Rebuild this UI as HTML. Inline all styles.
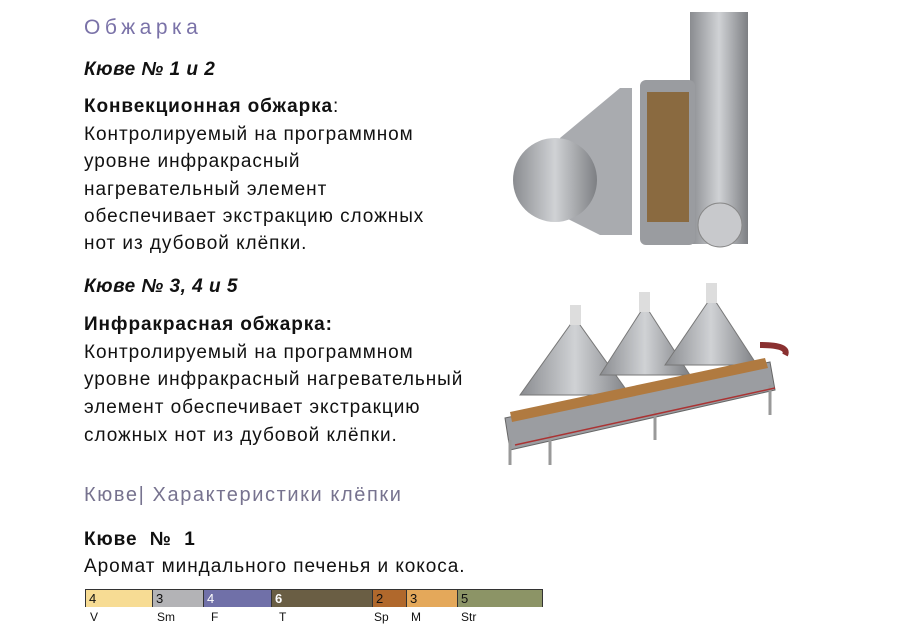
<!DOCTYPE html>
<html><head><meta charset="utf-8"><style>
body{margin:0;width:909px;height:633px;background:#fff;position:relative;overflow:hidden;font-family:"Liberation Sans",sans-serif;color:#111}
.t{position:absolute;left:84px;font-size:19px;letter-spacing:0.95px;white-space:nowrap;line-height:1}
.b{font-weight:bold;letter-spacing:0.9px}.i{font-style:italic;font-weight:bold;letter-spacing:0.5px}
.seg{position:absolute;top:590px;height:17px;border-right:1px solid #333;font-size:13px;padding-left:3px;box-sizing:border-box;line-height:17px}
.lab{position:absolute;top:610px;font-size:12px}
</style></head><body>
<div class="t" style="top:17px;font-size:21px;color:#7a72a8;letter-spacing:4.5px">Обжарка</div>
<div class="t i" style="top:60px">Кюве № 1 и 2</div>
<div class="t b" style="top:97px">Конвекционная обжарка<span style="font-weight:normal">:</span></div>
<div class="t" style="top:125px">Контролируемый на программном</div>
<div class="t" style="top:152px">уровне инфракрасный</div>
<div class="t" style="top:180px">нагревательный элемент</div>
<div class="t" style="top:207px">обеспечивает экстракцию сложных</div>
<div class="t" style="top:234px">нот из дубовой клёпки.</div>
<div class="t i" style="top:277px">Кюве № 3, 4 и 5</div>
<div class="t b" style="top:315px">Инфракрасная обжарка:</div>
<div class="t" style="top:343px">Контролируемый на программном</div>
<div class="t" style="top:370px">уровне инфракрасный нагревательный</div>
<div class="t" style="top:398px">элемент обеспечивает экстракцию</div>
<div class="t" style="top:426px">сложных нот из дубовой клёпки.</div>
<div class="t" style="top:485px;font-size:20px;color:#77738f;letter-spacing:1.6px">Кюве| Характеристики клёпки</div>
<div class="t b" style="top:530px">Кюве &nbsp;№ &nbsp;1</div>
<div class="t" style="top:557px">Аромат миндального печенья и кокоса.</div>
<div style="position:absolute;left:85px;top:589px;width:458px;height:18px;border:1px solid #333;box-sizing:border-box"></div>
<div class="seg" style="left:86px;width:67px;background:#f7dc94">4</div>
<div class="seg" style="left:153px;width:51px;background:#b3b3b6">3</div>
<div class="seg" style="left:204px;width:68px;background:#7070a8;color:#fff">4</div>
<div class="seg" style="left:272px;width:101px;background:#6a5e44;color:#fff;font-weight:bold">6</div>
<div class="seg" style="left:373px;width:34px;background:#b0682c">2</div>
<div class="seg" style="left:407px;width:51px;background:#e4a85a">3</div>
<div class="seg" style="left:458px;width:84px;background:#8c9466;border-right:none">5</div>
<div class="lab" style="left:90px">V</div><div class="lab" style="left:157px">Sm</div>
<div class="lab" style="left:211px">F</div><div class="lab" style="left:279px">T</div>
<div class="lab" style="left:374px">Sp</div><div class="lab" style="left:411px">M</div>
<div class="lab" style="left:461px">Str</div>
<svg style="position:absolute;left:0;top:0" width="909" height="633">
<defs><linearGradient id="g" x1="0" x2="1"><stop offset="0" stop-color="#8a8c90"/><stop offset=".5" stop-color="#d0d2d5"/><stop offset="1" stop-color="#7d7f83"/></linearGradient></defs>
<rect x="690" y="12" width="58" height="232" fill="url(#g)"/>
<path d="M560 138 L620 88 L632 88 L632 235 L600 235 L560 215 Z" fill="#a9abaf"/>
<ellipse cx="555" cy="180" rx="42" ry="42" fill="url(#g)"/>
<rect x="640" y="80" width="55" height="165" rx="6" fill="#9a9ca0"/>
<rect x="647" y="92" width="42" height="130" fill="#8a6a40"/>
<circle cx="720" cy="225" r="22" fill="#c8c9cc" stroke="#888"/>
<path d="M505 418 L770 362 L775 390 L510 450 Z" fill="#9b9da1" stroke="#666"/>
<path d="M510 440 L510 465 M550 432 L550 465 M655 410 L655 440 M770 385 L770 415" stroke="#999" stroke-width="3"/>
<g fill="url(#g)" stroke="#777">
<path d="M520 395 L575 318 L630 395 Z"/><path d="M600 375 L645 305 L690 375 Z"/><path d="M665 365 L712 296 L757 365 Z"/>
</g>
<rect x="570" y="305" width="11" height="20" fill="#ddd"/><rect x="639" y="292" width="11" height="20" fill="#ddd"/><rect x="706" y="283" width="11" height="20" fill="#ddd"/>
<path d="M510 412 L765 358 L768 368 L512 422 Z" fill="#b07a40"/>
<path d="M515 445 L775 388" stroke="#a33" stroke-width="1.5"/>
<path d="M760 345 Q790 345 785 355" stroke="#8a3030" stroke-width="6" fill="none"/>
</svg>
</body></html>
